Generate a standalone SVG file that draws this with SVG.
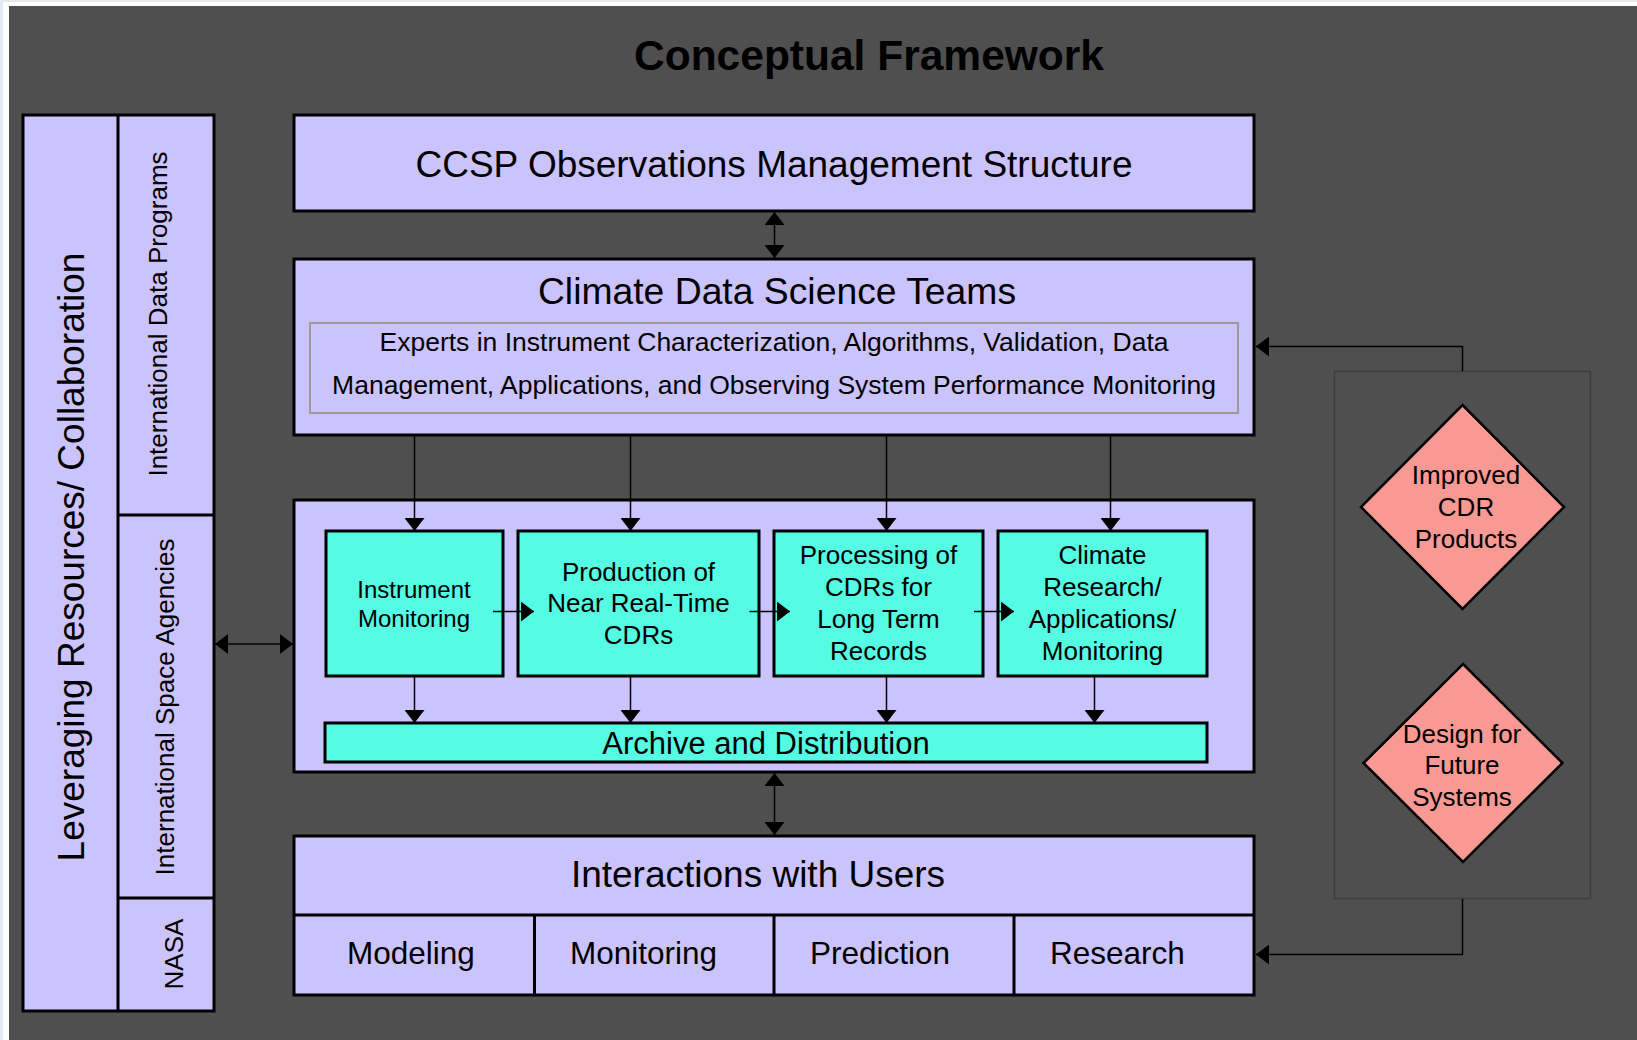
<svg xmlns="http://www.w3.org/2000/svg" width="1637" height="1040" viewBox="0 0 1637 1040">
  <style>
    .t { font-family: "Liberation Sans", Arial, sans-serif; fill: #000; }
    .box { fill: #CBC3FB; stroke: #000; stroke-width: 3; }
    .teal { fill: #55FBE2; stroke: #000; stroke-width: 3; }
    .dia { fill: #F99994; stroke: #000; stroke-width: 2.5; }
    .con { fill: none; stroke: #000; stroke-width: 1.5; }
  </style>
  <defs>
    <marker id="ah" viewBox="0 0 13 20" refX="13" refY="10" markerWidth="13" markerHeight="20" orient="auto-start-reverse" markerUnits="userSpaceOnUse">
      <path d="M0,0 L13,10 L0,20 z" fill="#000"/>
    </marker>
  </defs>

  <!-- frame -->
  <rect x="0" y="0" width="1637" height="1040" fill="#ffffff"/>
  <rect x="0" y="0" width="3" height="1040" fill="#e2eaf3"/>
  <rect x="0" y="0" width="1637" height="2" fill="#e6eaee"/>
  <rect x="9" y="6" width="1628" height="1034" fill="#4F4F4F"/>

  <text class="t" x="869" y="70" font-size="42.5" font-weight="bold" text-anchor="middle">Conceptual Framework</text>

  <!-- left collaboration column -->
  <g id="leveraging">
    <rect class="box" x="23" y="115" width="191" height="896"/>
    <line x1="118" y1="115" x2="118" y2="1011" stroke="#000" stroke-width="3"/>
    <line x1="118" y1="515" x2="214" y2="515" stroke="#000" stroke-width="3"/>
    <line x1="118" y1="898" x2="214" y2="898" stroke="#000" stroke-width="3"/>
    <text class="t" font-size="37" text-anchor="middle" transform="translate(84,557) rotate(-90)">Leveraging Resources/ Collaboration</text>
  </g>
  <g id="intl-data-programs">
    <text class="t" font-size="26" text-anchor="middle" transform="translate(167,314) rotate(-90)">International Data Programs</text>
  </g>
  <g id="intl-space-agencies">
    <text class="t" font-size="26" text-anchor="middle" transform="translate(174,707) rotate(-90)">International Space Agencies</text>
  </g>
  <g id="nasa">
    <text class="t" font-size="26" text-anchor="middle" transform="translate(183,954) rotate(-90)">NASA</text>
  </g>

  <!-- CCSP -->
  <g id="ccsp">
    <rect class="box" x="294" y="115" width="960" height="96"/>
    <text class="t" x="774" y="177" font-size="37" text-anchor="middle">CCSP Observations Management Structure</text>
  </g>

  <!-- Climate Data Science Teams -->
  <g id="science-teams">
    <rect class="box" x="294" y="259" width="960" height="176"/>
    <text class="t" x="777" y="304" font-size="37.3" text-anchor="middle">Climate Data Science Teams</text>
    <rect x="310" y="323" width="928" height="90" fill="none" stroke="#9a9a9a" stroke-width="2"/>
    <text class="t" x="774" y="351" font-size="26.5" text-anchor="middle">Experts in Instrument Characterization, Algorithms, Validation, Data</text>
    <text class="t" x="774" y="394" font-size="26.5" text-anchor="middle">Management, Applications, and Observing System Performance Monitoring</text>
  </g>

  <!-- process container -->
  <g id="process-container">
    <rect class="box" x="294" y="500" width="960" height="272"/>
  </g>
  <g id="instrument-monitoring">
    <rect class="teal" x="326" y="531" width="177" height="145"/>
    <text class="t" font-size="24" text-anchor="middle"><tspan x="414" y="598">Instrument</tspan><tspan x="414" y="627">Monitoring</tspan></text>
  </g>
  <g id="near-real-time">
    <rect class="teal" x="518" y="531" width="241" height="145"/>
    <text class="t" font-size="26" text-anchor="middle"><tspan x="638.5" y="581">Production of</tspan><tspan x="638.5" y="612">Near Real-Time</tspan><tspan x="638.5" y="644">CDRs</tspan></text>
  </g>
  <g id="long-term">
    <rect class="teal" x="774" y="531" width="209" height="145"/>
    <text class="t" font-size="26" text-anchor="middle"><tspan x="878.5" y="564">Processing of</tspan><tspan x="878.5" y="596">CDRs for</tspan><tspan x="878.5" y="628">Long Term</tspan><tspan x="878.5" y="660">Records</tspan></text>
  </g>
  <g id="climate-research">
    <rect class="teal" x="998" y="531" width="209" height="145"/>
    <text class="t" font-size="26" text-anchor="middle"><tspan x="1102.5" y="564">Climate</tspan><tspan x="1102.5" y="596">Research/</tspan><tspan x="1102.5" y="628">Applications/</tspan><tspan x="1102.5" y="660">Monitoring</tspan></text>
  </g>
  <g id="archive">
    <rect class="teal" x="325" y="723" width="882" height="39"/>
    <text class="t" x="766" y="754" font-size="31" text-anchor="middle">Archive and Distribution</text>
  </g>

  <!-- Interactions with users -->
  <g id="users">
    <rect class="box" x="294" y="836" width="960" height="159"/>
    <line x1="294" y1="915" x2="1254" y2="915" stroke="#000" stroke-width="3"/>
    <line x1="534.5" y1="915" x2="534.5" y2="995" stroke="#000" stroke-width="3"/>
    <line x1="774" y1="915" x2="774" y2="995" stroke="#000" stroke-width="3"/>
    <line x1="1014" y1="915" x2="1014" y2="995" stroke="#000" stroke-width="3"/>
    <text class="t" x="758" y="887" font-size="37" text-anchor="middle">Interactions with Users</text>
  </g>
  <g id="modeling"><text class="t" x="347" y="964" font-size="31.5">Modeling</text></g>
  <g id="monitoring"><text class="t" x="570" y="964" font-size="31.5">Monitoring</text></g>
  <g id="prediction"><text class="t" x="810" y="964" font-size="31.5">Prediction</text></g>
  <g id="research"><text class="t" x="1050" y="964" font-size="31.5">Research</text></g>

  <!-- right feedback panel -->
  <g id="feedback-panel">
    <rect x="1334.5" y="371.5" width="256" height="527" fill="none" stroke="#3c3c3c" stroke-width="1.5"/>
  </g>
  <g id="improved-cdr">
    <polygon class="dia" points="1462.5,405 1564,507 1462.5,609 1361,507"/>
    <text class="t" font-size="26" text-anchor="middle"><tspan x="1466" y="484">Improved</tspan><tspan x="1466" y="516">CDR</tspan><tspan x="1466" y="548">Products</tspan></text>
  </g>
  <g id="future-systems">
    <polygon class="dia" points="1463,664 1562.5,763 1463,862 1363.5,763"/>
    <text class="t" font-size="26" text-anchor="middle"><tspan x="1462" y="743">Design for</tspan><tspan x="1462" y="774">Future</tspan><tspan x="1462" y="806">Systems</tspan></text>
  </g>

  <!-- connectors -->
  <g id="connectors">
    <line class="con" x1="774.5" y1="212" x2="774.5" y2="258" marker-start="url(#ah)" marker-end="url(#ah)"/>
    <line class="con" x1="414.5" y1="435" x2="414.5" y2="531" marker-end="url(#ah)"/>
    <line class="con" x1="630.5" y1="435" x2="630.5" y2="531" marker-end="url(#ah)"/>
    <line class="con" x1="886.5" y1="435" x2="886.5" y2="531" marker-end="url(#ah)"/>
    <line class="con" x1="1110.5" y1="435" x2="1110.5" y2="531" marker-end="url(#ah)"/>
    <line class="con" x1="493" y1="611.5" x2="534" y2="611.5" marker-end="url(#ah)"/>
    <line class="con" x1="749.5" y1="611.5" x2="790" y2="611.5" marker-end="url(#ah)"/>
    <line class="con" x1="974" y1="611.5" x2="1014" y2="611.5" marker-end="url(#ah)"/>
    <line class="con" x1="414.5" y1="676" x2="414.5" y2="723" marker-end="url(#ah)"/>
    <line class="con" x1="630.5" y1="676" x2="630.5" y2="723" marker-end="url(#ah)"/>
    <line class="con" x1="886.5" y1="676" x2="886.5" y2="723" marker-end="url(#ah)"/>
    <line class="con" x1="1094.5" y1="676" x2="1094.5" y2="723" marker-end="url(#ah)"/>
    <line class="con" x1="215" y1="644" x2="293" y2="644" marker-start="url(#ah)" marker-end="url(#ah)"/>
    <line class="con" x1="774.5" y1="773" x2="774.5" y2="835" marker-start="url(#ah)" marker-end="url(#ah)"/>
    <polyline class="con" points="1462.5,371 1462.5,346.5 1256,346.5" marker-end="url(#ah)"/>
    <polyline class="con" points="1462.5,899 1462.5,954.5 1256,954.5" marker-end="url(#ah)"/>
  </g>
</svg>
